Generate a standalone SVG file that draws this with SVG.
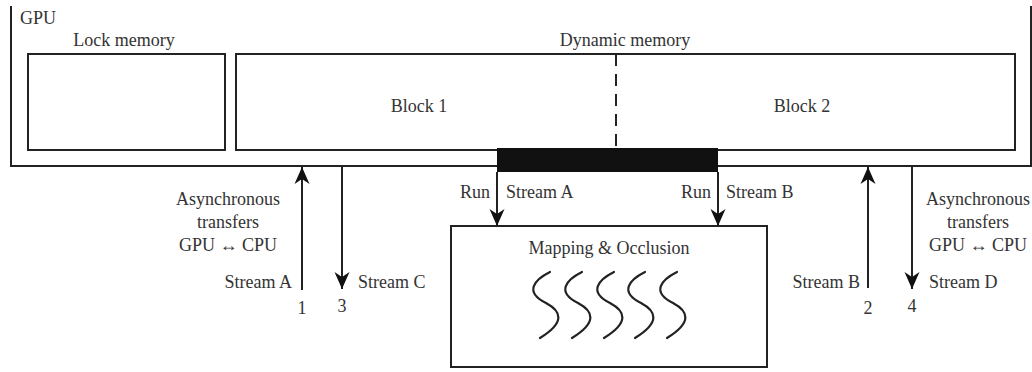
<svg xmlns="http://www.w3.org/2000/svg" width="1032" height="372" viewBox="0 0 1032 372">
<defs>
<style>
.box{fill:none;stroke:#222;stroke-width:2}
.ln{fill:none;stroke:#222;stroke-width:2}
.t{font-family:"Liberation Serif","DejaVu Serif",serif;font-size:18px;fill:#333}
.m{text-anchor:middle}
.e{text-anchor:end}
.sq{fill:none;stroke:#222;stroke-width:2.2;stroke-linecap:round}
</style>
<marker id="ah" markerUnits="userSpaceOnUse" viewBox="-18 -8 19 16" refX="0" refY="0" markerWidth="19" markerHeight="16" orient="auto">
<path d="M0,0 L-17,-7.5 L-12,0 L-17,7.5 Z" fill="#111"/>
</marker>
<path id="sqg" class="sq" d="M550,272 C534,280 524,292 546,303 C561,311 566,322 540,338"/>
</defs>
<rect width="1032" height="372" fill="#fff"/>
<g id="gpu">
<path class="ln" d="M11,6 V166 H1031 V6"/>
<text class="t" x="20" y="24">GPU</text>
</g>
<g id="lock-memory">
<rect class="box" x="28" y="54" width="197" height="96"/>
<text class="t m" x="124" y="46">Lock memory</text>
</g>
<g id="dynamic-memory">
<rect class="box" x="236" y="54" width="779" height="96"/>
<line class="ln" x1="616" y1="54" x2="616" y2="150" stroke-dasharray="12,8"/>
<text class="t m" x="625" y="46">Dynamic memory</text>
<text class="t m" x="419" y="112">Block 1</text>
<text class="t m" x="802" y="112">Block 2</text>
</g>
<g id="bus">
<rect x="497" y="148" width="221" height="24" fill="#111"/>
</g>
<g id="mapping">
<rect class="box" x="451" y="226" width="316" height="141"/>
<text class="t m" x="609" y="254">Mapping &amp; Occlusion</text>
<g id="squiggles">
<use href="#sqg"/>
<use href="#sqg" x="32"/>
<use href="#sqg" x="64"/>
<use href="#sqg" x="95"/>
<use href="#sqg" x="127"/>
</g>
</g>
<g id="connectors">
<line class="ln" x1="497" y1="172" x2="497" y2="226" marker-end="url(#ah)"/>
<line class="ln" x1="718" y1="172" x2="718" y2="226" marker-end="url(#ah)"/>
<line class="ln" x1="302" y1="290" x2="302" y2="167" marker-end="url(#ah)"/>
<line class="ln" x1="342" y1="166" x2="342" y2="289" marker-end="url(#ah)"/>
<line class="ln" x1="868" y1="288" x2="868" y2="167" marker-end="url(#ah)"/>
<line class="ln" x1="912" y1="166" x2="912" y2="289" marker-end="url(#ah)"/>
</g>
<g id="labels">
<text class="t e" x="490" y="198">Run</text>
<text class="t" x="506" y="198">Stream A</text>
<text class="t e" x="711" y="198">Run</text>
<text class="t" x="726" y="198">Stream B</text>
<text class="t m" x="228" y="205">Asynchronous</text>
<text class="t m" x="228" y="228">transfers</text>
<text class="t m" x="228" y="251">GPU ↔ CPU</text>
<text class="t e" x="292" y="288">Stream A</text>
<text class="t" x="358" y="288">Stream C</text>
<text class="t m" x="302" y="314">1</text>
<text class="t m" x="342" y="312">3</text>
<text class="t m" x="978" y="205">Asynchronous</text>
<text class="t m" x="978" y="228">transfers</text>
<text class="t m" x="978" y="251">GPU ↔ CPU</text>
<text class="t e" x="860" y="288">Stream B</text>
<text class="t" x="929" y="288">Stream D</text>
<text class="t m" x="868" y="314">2</text>
<text class="t m" x="912" y="312">4</text>
</g>
</svg>
